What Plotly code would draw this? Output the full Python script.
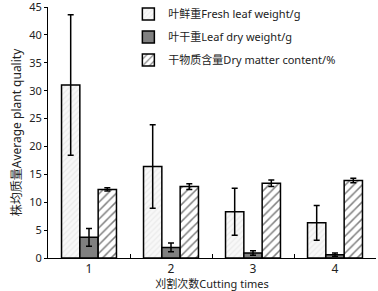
import plotly.graph_objects as go

categories = ["1", "2", "3", "4"]
fresh = [31.0, 16.4, 8.3, 6.3]
fresh_err = [12.6, 7.5, 4.2, 3.1]
dry = [3.7, 1.9, 0.9, 0.6]
dry_err = [1.6, 0.8, 0.4, 0.3]
matter = [12.3, 12.8, 13.4, 13.9]
matter_err = [0.3, 0.5, 0.6, 0.4]
y_ticks = [0, 5, 10, 15, 20, 25, 30, 35, 40, 45]

names = ["叶鲜重Fresh leaf weight/g", "叶干重Leaf dry weight/g", "干物质含量Dry matter content/%"]

FONT = "Noto Sans, Noto Sans CJK SC, sans-serif"

def err(a):
    return dict(type="data", array=a, visible=True, color="black", thickness=1.5, width=3)

fig = go.Figure()
fig.add_trace(go.Bar(
    x=categories, y=fresh, name=names[0], legendgroup="a", error_y=err(fresh_err),
    marker=dict(color="#f4f4f4", line=dict(color="black", width=1.5),
                pattern=dict(shape="/", fgcolor="#dcdcdc", bgcolor="#f8f8f8", size=4, solidity=0.3)),
))
fig.add_trace(go.Bar(
    x=categories, y=dry, name=names[1], legendgroup="b", error_y=err(dry_err),
    marker=dict(color="#808080", line=dict(color="black", width=1.5)),
))
fig.add_trace(go.Bar(
    x=categories, y=matter, name=names[2], legendgroup="c", error_y=err(matter_err),
    marker=dict(color="white", line=dict(color="black", width=1.5),
                pattern=dict(shape="/", fgcolor="black", bgcolor="white", size=6, solidity=0.25)),
))

fig.update_layout(
    width=378, height=291,
    margin=dict(l=48, r=2, t=7, b=33, autoexpand=False),
    paper_bgcolor="white", plot_bgcolor="white",
    barmode="group", bargap=0.33, bargroupgap=0,
    font=dict(family=FONT, size=11, color="#222"),
    showlegend=True,
    legend=dict(x=0.245, y=1.03, xanchor="left", yanchor="top", bgcolor="rgba(0,0,0,0)",
                font=dict(size=11, color="#222"), tracegroupgap=4, itemwidth=30),
    xaxis=dict(showline=True, linecolor="black", linewidth=1, ticks="inside", tickson="boundaries",
               ticklen=4, tickcolor="black", automargin=False,
               title=dict(text="刈割次数Cutting times", font=dict(size=11), standoff=1),
               tickfont=dict(size=12)),
    yaxis=dict(range=[0, 45.001], tickvals=y_ticks, showline=True, linecolor="black", linewidth=1,
               ticks="outside", ticklen=3, tickcolor="black", showgrid=False, zeroline=False,
               automargin=False, ticklabeloverflow="allow",
               title=dict(text="株均质量Average plant quality", font=dict(size=12), standoff=5),
               tickfont=dict(size=11)),
)

fig.write_html("out.html", post_script="document.body.style.margin='0';",
               config={"displayModeBar": False})
